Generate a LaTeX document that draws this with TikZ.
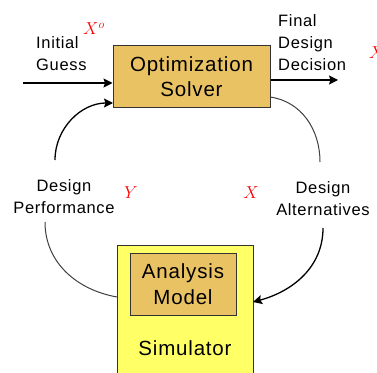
\documentclass[tikz,border=0pt]{standalone}
\usepackage{fontspec}
\setmainfont{Liberation Sans}[LetterSpace=4]
\usetikzlibrary{arrows.meta}
\definecolor{gold}{HTML}{E9C264}
\definecolor{simyellow}{HTML}{FFFF66}
\definecolor{edge}{HTML}{333333}
\tikzset{
  x=1pt, y=1pt,
  goldbox/.style={draw=edge, line width=1pt, fill=gold, align=center, inner sep=0pt},
  lbl/.style={font=\fontsize{16.5}{22}\selectfont, align=left, inner sep=0pt},
  lblc/.style={font=\fontsize{16.5}{22}\selectfont, align=center, inner sep=0pt},
  sym/.style={text=red, font=\fontsize{17}{17}\selectfont, inner sep=0pt},
  flow/.style={line width=1.3pt, -{Stealth[length=9pt,width=9pt,inset=1.5pt]}},
  link/.style={line width=1pt, draw=black!75},
}
\begin{document}
\begin{tikzpicture}
\clip (0,0) rectangle (377,372);
\fill[white] (0,0) rectangle (377,372);

% boxes
\node[goldbox, minimum width=157pt, minimum height=62pt,
      font=\fontsize{20.5}{25}\selectfont] (solver) at (191.5,295) {Optimization\\Solver};
\draw[edge, line width=1pt, fill=simyellow] (117,-30) rectangle (253,126);
\coordinate (simW) at (117,75);
\coordinate (simE) at (253,70);
\node[goldbox, minimum width=106pt, minimum height=61pt,
      font=\fontsize{20.5}{26}\selectfont] (model) at (183,87.5) {Analysis\\Model};
\node[font=\fontsize{20.5}{25}\selectfont, inner sep=0pt] (sim) at (185,24) {Simulator};

% labels
\node[lbl, anchor=west] (guess) at (36,318) {Initial\\Guess};
\node[sym] (x0) at (94,343) {$X^o$};
\node[lbl, anchor=west] (final) at (278,329) {Final\\Design\\Decision};
\node[sym, anchor=west] (xstar) at (369,319) {$X^*$};
\node[lblc] (perf) at (64,175) {Design\\Performance};
\node[sym] (ysym) at (131,179) {$Y$};
\node[sym] (xsym) at (251,179) {$X$};
\node[lblc] (alt) at (323,173) {Design\\Alternatives};

% free ends of the connectors
\coordinate (start) at (23,289);
\coordinate (finish) at (338,292);
\coordinate (perfTop) at (55,212);
\coordinate (perfBot) at (45,150);
\coordinate (altTop) at (320,210);
\coordinate (altBot) at (323,144);
\coordinate (solverIn) at (113,269);
\coordinate (solverOut) at (270,275);

% connectors
\draw[flow] (start) -- (start -| solver.west);
\draw[flow] (solver.east |- finish) -- (finish);
\draw[flow] (perfTop) to[out=90, in=180] (solverIn);
\draw[link] (solverOut) to[out=-8, in=90] (altTop);
\draw[flow] (altBot) to[out=-90, in=15] (simE);
\draw[link] (perfBot) to[out=-90, in=170] (simW);
\end{tikzpicture}
\end{document}
